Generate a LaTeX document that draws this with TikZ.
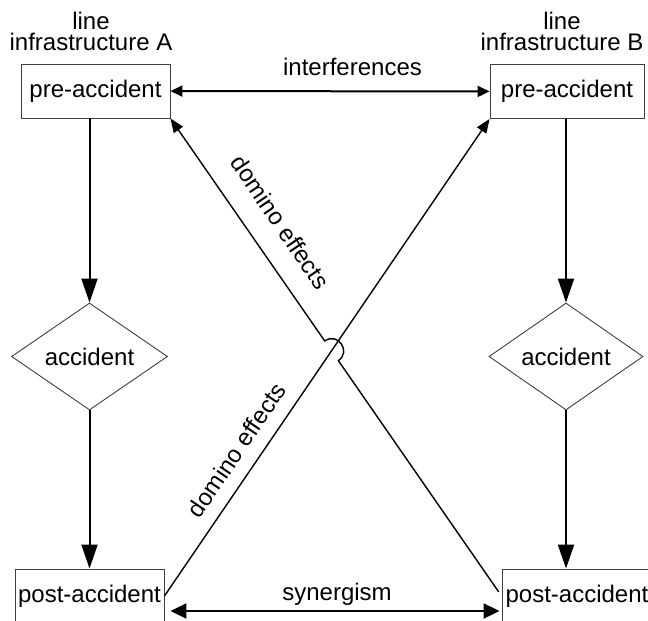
\documentclass[tikz,border=0pt]{standalone}
\usepackage{fontspec}
\setmainfont{Liberation Sans}
\usetikzlibrary{arrows.meta,shapes.geometric,calc}

\begin{document}
\begin{tikzpicture}[x=1pt,y=-1pt,
  every node/.style={font=\fontsize{24}{26}\selectfont},
  stagebox/.style={draw=black!75, line width=0.9pt, inner sep=0pt,
    minimum height=54pt, fill=white},
  eventdia/.style={diamond, draw=black!75, line width=0.9pt, inner sep=0pt,
    minimum width=156pt, minimum height=103pt},
  flow/.style={line width=2pt, -{Triangle[length=24pt,width=16pt]}},
  link/.style={line width=2pt,
    {Triangle[length=12pt,width=11pt]}-{Triangle[length=12pt,width=11pt]}},
  bigl/.style={line width=2pt,
    {Triangle[length=16pt,width=15pt]}-{Triangle[length=16pt,width=15pt]}},
  domino/.style={line width=1.4pt, -{Triangle[length=14pt,width=11pt]}}
]
\clip (0,0) rectangle (648,621);
\fill[white] (0,0) rectangle (648,621);

% column headings
\node[anchor=base] (titA1) at (91,29) {line};
\node[anchor=base] (titA2) at (91,50) {infrastructure A};
\node[anchor=base] (titB1) at (562,29) {line};
\node[anchor=base] (titB2) at (562,50) {infrastructure B};

% states of both infrastructures
\node[stagebox, minimum width=149pt] (preA) at (95.5,91) {pre-accident};
\node[stagebox, minimum width=154pt] (preB) at (567,91.5) {pre-accident};
\node[eventdia] (accA) at (89.5,356.5) {accident};
\node[eventdia, minimum width=154pt] (accB) at (566,356.5) {accident};
\node[stagebox, minimum width=149pt] (postA) at (89.5,596) {post-accident};
\node[stagebox, minimum width=150pt] (postB) at (577,596) {post-accident};

% evolution of each line
\draw[flow] (preA.south -| accA.north) -- (accA.north);
\draw[flow] (accA.south) -- (postA.north);
\draw[flow] (preB.south -| accB.north) -- (accB.north);
\draw[flow] (accB.south) -- (postB.north -| accB.south);

% mutual relations
\draw[link] (preA) -- (preB);
\node[anchor=base] (interf) at (352.5,75) {interferences};
\draw[bigl, shorten <=6pt, shorten >=2pt]
  ([yshift=-15pt]postA.east) -- ([yshift=-15pt]postB.west);
\node[anchor=base] (syn) at (337,600.5) {synergism};

% domino effects, the second one hopping over the first
\draw[domino] (postA.east) -- (preB.south west);
\coordinate (X) at (intersection of postA.east--preB.south west and preA.south east--postB.west);
\coordinate (h1) at ($(X)!12pt!(preA.south east)$);
\coordinate (h2) at ($(X)!12pt!(postB.west)$);
\coordinate (c1) at ($(h1)!16pt!90:(X)$);
\coordinate (c2) at ($(h2)!16pt!-90:(X)$);
\draw[domino, shorten <=5pt] (postB.west) -- (h2) .. controls (c2) and (c1) .. (h1) -- (preA.south east);

\node[rotate=-55.8] (domA) at (280.5,222) {domino effects};
\node[rotate=55.8] (domB) at (236.5,450) {domino effects};
\end{tikzpicture}
\end{document}
